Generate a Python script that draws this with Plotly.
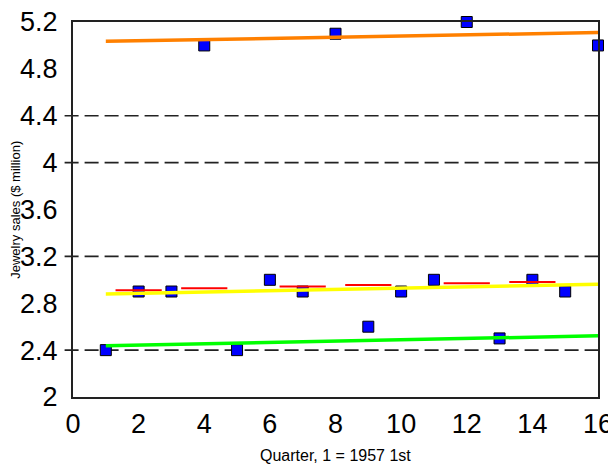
import plotly.graph_objects as go

# Observed quarterly jewelry sales ($ million)
quarters = list(range(1, 17))
sales = [2.4, 2.9, 2.9, 5.0, 2.4, 3.0, 2.9, 5.1, 2.6, 2.9, 3.0, 5.2, 2.5, 3.0, 2.9, 5.0]

# Fitted trend lines (start / end quarter values)
trend_x = [1, 16]
orange_trend = [5.035, 5.11]
yellow_trend = [2.88, 2.962]
green_trend = [2.438, 2.522]

# Red short segments
red_x = [2, 4, 7, 9, 12, 14]
red_y = [2.911, 2.928, 2.942, 2.956, 2.970, 2.982]

# Dashed reference levels
ref_levels = [2.4, 3.2, 4.0, 4.4]

y_ticks = [2, 2.4, 2.8, 3.2, 3.6, 4, 4.4, 4.8, 5.2]
y_tick_text = ["2", "2.4", "2.8", "3.2", "3.6", "4", "4.4", "4.8", "5.2"]
x_ticks = [0, 2, 4, 6, 8, 10, 12, 14, 16]

FONT = "Liberation Sans, Arial, sans-serif"

fig = go.Figure()

fig.add_trace(go.Scatter(
    x=quarters, y=sales, mode="markers", cliponaxis=False,
    marker=dict(symbol="square", size=11, color="#0000ff",
                line=dict(color="#000000", width=1)),
    showlegend=False, hoverinfo="x+y"))

fig.add_trace(go.Scatter(
    x=red_x, y=red_y, mode="markers", cliponaxis=False,
    marker=dict(symbol="line-ew", size=33,
                line=dict(color="#ff0000", width=2)),
    showlegend=False))

for vals, col in [(orange_trend, "#ff8000"), (yellow_trend, "#ffff00"),
                  (green_trend, "#00ff00")]:
    fig.add_trace(go.Scatter(
        x=trend_x, y=vals, mode="lines", cliponaxis=False,
        line=dict(color=col, width=3.5), showlegend=False))

for lv in ref_levels:
    fig.add_shape(type="line", xref="paper", yref="y", x0=-0.016, x1=1,
                  y0=lv, y1=lv, layer="below",
                  line=dict(color="#222222", width=1.6, dash="14px,6px"))

# the page body adds an 8px offset, so the figure is sized 608x460
fig.update_layout(
    width=608, height=460,
    margin=dict(l=65, r=18, t=14, b=71),
    paper_bgcolor="white", plot_bgcolor="white",
    font=dict(family=FONT, color="#000000"),
    xaxis=dict(range=[0, 16], tickvals=x_ticks, showgrid=False, zeroline=False,
               showline=True, linecolor="#222222", linewidth=2, mirror=True,
               ticks="", tickfont=dict(size=27, family=FONT),
               ticklabelstandoff=2, automargin=False,
               ticklabeloverflow="allow"),
    yaxis=dict(range=[2, 5.2], tickvals=y_ticks, ticktext=y_tick_text,
               showgrid=False, zeroline=False,
               showline=True, linecolor="#222222", linewidth=2, mirror=True,
               ticks="", tickfont=dict(size=27, family=FONT),
               ticklabelstandoff=8, automargin=False,
               ticklabeloverflow="allow"),
    annotations=[
        dict(text="Quarter, 1 = 1957 1st", xref="paper", yref="paper",
             x=0.5, y=-0.155, xanchor="center", yanchor="middle",
             showarrow=False, font=dict(size=16, family=FONT)),
        dict(text="Jewelry sales ($ million)", xref="paper", yref="paper",
             x=-0.11, y=0.5, xanchor="center", yanchor="middle",
             textangle=-90, showarrow=False, font=dict(size=13, family=FONT)),
    ],
)

fig.write_html("out.html")
